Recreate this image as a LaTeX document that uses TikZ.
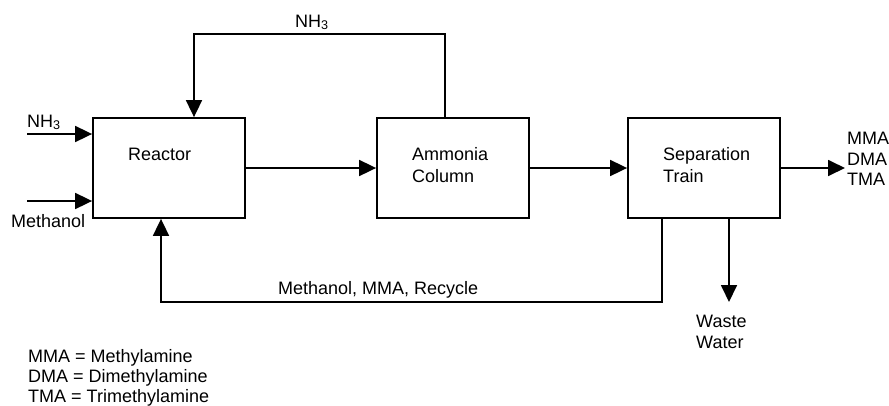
\documentclass[tikz,border=0pt]{standalone}
\usepackage{fontspec}
\setmainfont{Liberation Sans}
\usetikzlibrary{arrows.meta}

\begin{document}
\begin{tikzpicture}[x=1pt,y=-1pt,
  every node/.style={font=\fontsize{18}{20}\selectfont, inner sep=0pt},
  unit/.style={draw, line width=1.8pt, minimum width=152pt, minimum height=100pt},
  txt/.style={anchor=base west},
  flow/.style={line width=1.8pt, -{Triangle[length=17pt,width=16pt]}}]
\useasboundingbox (0,0) rectangle (889,405);

% process units
\node[unit] (reactor) at (169,168) {};
\node[unit] (ammonia) at (453,168) {};
\node[unit] (sep)     at (704,168) {};

% unit captions
\node[txt] (tReactor) at (128,160) {Reactor};
\node[txt] (tAmm1) at (412,160) {Ammonia};
\node[txt] (tAmm2) at (412,182) {Column};
\node[txt] (tSep1) at (663,160) {Separation};
\node[txt] (tSep2) at (663,182) {Train};

% feed streams
\coordinate (nh3in) at (27,134);
\coordinate (meoin) at (27,201);
\node[txt] (lNH3) at (27,127) {NH\textsubscript{3}};
\node[txt] (lMeOH) at (11,227) {Methanol};
\draw[flow] (nh3in) -- (nh3in -| reactor.west);
\draw[flow] (meoin) -- (meoin -| reactor.west);

% main train
\draw[flow] (reactor.east) -- (ammonia.west);
\draw[flow] (ammonia.east) -- (sep.west);

% ammonia recycle over the top
\coordinate (nh3up) at (445,34);
\coordinate (nh3dn) at (194,34);
\draw[flow] (nh3up |- ammonia.north) -- (nh3up) -- (nh3dn) -- (nh3dn |- reactor.north);
\node[txt] (lNH3top) at (295,27) {NH\textsubscript{3}};

% amine products
\coordinate (prod) at (845,168);
\draw[flow] (sep.east) -- (prod);
\node[txt] (pMMA) at (847,144) {MMA};
\node[txt] (pDMA) at (847,165) {DMA};
\node[txt] (pTMA) at (847,185) {TMA};

% methanol / MMA recycle underneath
\coordinate (recR) at (662,302);
\coordinate (recL) at (161,302);
\draw[flow] (recR |- sep.south) -- (recR) -- (recL) -- (recL |- reactor.south);
\node[txt] (lRec) at (278,294) {Methanol, MMA, Recycle};

% waste water
\coordinate (waste) at (729,302);
\draw[flow] (waste |- sep.south) -- (waste);
\node[txt] (lWaste1) at (696,327) {Waste};
\node[txt] (lWaste2) at (696,348) {Water};

% legend
\node[txt] (key1) at (28,362) {MMA = Methylamine};
\node[txt] (key2) at (28,382) {DMA = Dimethylamine};
\node[txt] (key3) at (28,402) {TMA = Trimethylamine};
\end{tikzpicture}
\end{document}
